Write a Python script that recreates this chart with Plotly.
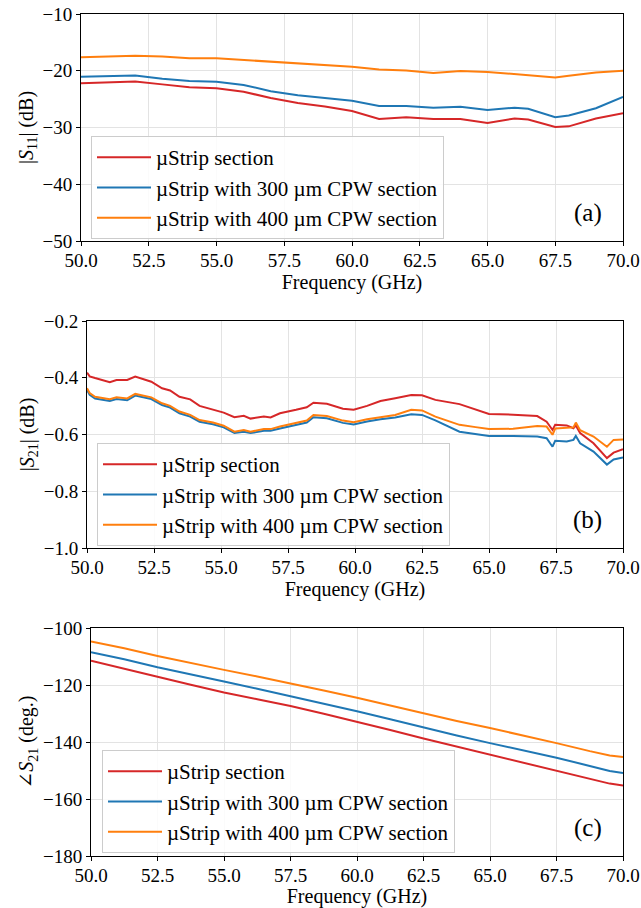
import plotly.graph_objects as go

W, H = 641, 908

# ---------------- data ----------------
series_names = ["µStrip section", "µStrip with 300 µm CPW section", "µStrip with 400 µm CPW section"]
colors = ["#d62728", "#1f77b4", "#ff7f0e"]

# (a) |S11| (dB)
freq_a = [50, 51, 52, 53, 54, 55, 56, 57, 58, 59, 60, 61, 62, 63, 64, 65, 66, 66.5, 67, 67.5, 68, 69, 70]
s11_ustrip = [-22.2, -22.0, -21.9, -22.4, -22.9, -23.1, -23.7, -24.8, -25.7, -26.3, -27.1, -28.5, -28.2, -28.5, -28.5,
              -29.2, -28.4, -28.6, -29.3, -29.9, -29.8, -28.4, -27.5]
s11_cpw300 = [-21.05, -20.9, -20.85, -21.4, -21.8, -21.95, -22.5, -23.6, -24.3, -24.8, -25.3, -26.2, -26.2, -26.5, -26.35,
              -26.9, -26.5, -26.7, -27.5, -28.2, -27.9, -26.6, -24.6]
s11_cpw400 = [-17.6, -17.45, -17.35, -17.5, -17.8, -17.8, -18.1, -18.5, -18.8, -19.0, -19.3, -19.8, -19.95, -20.4, -20.05,
              -20.2, -20.6, -20.75, -20.95, -21.2, -20.9, -20.3, -20.0]

# (b) |S21| (dB)
freq_b = [50.0, 50.1, 50.3, 50.85, 51.1, 51.5, 51.8, 52.25, 52.4, 52.8, 53.1, 53.45, 53.85, 54.2, 54.7, 55.1, 55.5,
          55.85, 56.1, 56.6, 56.85, 57.2, 57.8, 58.2, 58.45, 58.95, 59.55, 59.95, 60.45, 60.95, 61.5, 62.1, 62.5, 63.0,
          63.9, 64.5, 65.0, 65.9, 66.8, 67.15, 67.37, 67.47, 67.9, 68.15, 68.24, 68.4, 68.9, 69.4, 69.65, 70.0]
s21_ustrip = [-0.382, -0.395, -0.401, -0.416, -0.408, -0.408, -0.396, -0.410, -0.414, -0.437, -0.445, -0.467, -0.476,
              -0.499, -0.513, -0.523, -0.539, -0.534, -0.544, -0.537, -0.540, -0.525, -0.513, -0.504, -0.488, -0.492,
              -0.509, -0.513, -0.499, -0.482, -0.472, -0.461, -0.462, -0.478, -0.493, -0.511, -0.528, -0.530, -0.535,
              -0.555, -0.584, -0.566, -0.568, -0.578, -0.568, -0.595, -0.631, -0.683, -0.664, -0.652]
s21_cpw300 = [-0.443, -0.460, -0.473, -0.482, -0.475, -0.479, -0.463, -0.473, -0.475, -0.496, -0.505, -0.525, -0.537,
              -0.555, -0.564, -0.575, -0.595, -0.590, -0.595, -0.587, -0.587, -0.579, -0.567, -0.558, -0.539, -0.543,
              -0.559, -0.565, -0.554, -0.546, -0.540, -0.529, -0.531, -0.550, -0.590, -0.598, -0.605, -0.605, -0.607,
              -0.613, -0.643, -0.622, -0.625, -0.619, -0.605, -0.631, -0.660, -0.706, -0.688, -0.681]
s21_cpw400 = [-0.437, -0.454, -0.467, -0.476, -0.469, -0.473, -0.457, -0.467, -0.469, -0.490, -0.499, -0.519, -0.531,
              -0.549, -0.558, -0.569, -0.590, -0.584, -0.590, -0.581, -0.581, -0.572, -0.560, -0.551, -0.531, -0.535,
              -0.551, -0.557, -0.546, -0.539, -0.531, -0.513, -0.515, -0.537, -0.566, -0.574, -0.581, -0.580, -0.570,
              -0.572, -0.601, -0.579, -0.578, -0.575, -0.558, -0.585, -0.607, -0.643, -0.619, -0.618]

# (c) phase of S21 (deg.)
freq_c = [50, 51.25, 52.5, 53.75, 55, 56.25, 57.5, 58.75, 60, 61.25, 62.5, 63.75, 65, 66.25, 67.5, 68.75, 69.5, 70]
ph_ustrip = [-111.5, -114.2, -117.1, -119.9, -122.6, -125.0, -127.4, -130.1, -132.9, -135.8, -138.8, -141.6, -144.4,
             -147.3, -150.2, -153.0, -154.6, -155.3]
ph_cpw300 = [-108.5, -111.0, -113.8, -116.4, -118.8, -121.3, -123.9, -126.6, -129.2, -132.0, -134.9, -137.7, -140.4,
             -142.9, -145.5, -148.4, -150.2, -150.9]
ph_cpw400 = [-104.7, -107.1, -109.8, -112.3, -114.7, -117.0, -119.4, -121.9, -124.5, -127.2, -130.0, -132.6, -135.1,
             -137.7, -140.4, -143.2, -144.7, -145.3]

x_ticks = [50.0, 52.5, 55.0, 57.5, 60.0, 62.5, 65.0, 67.5, 70.0]

# ---------------- layout helpers ----------------
FONT = "Liberation Serif, Times New Roman, DejaVu Serif, serif"
TICK_SIZE = 19
TITLE_SIZE = 20
LEG_SIZE = 21

def px_x(p):
    return p / W

def px_y(p):
    return 1 - p / H

# plot boxes in window pixels: (left, right, top, bottom)
boxes = [(81, 623, 14, 241), (87, 623, 321, 548), (91, 623, 628, 856)]
yranges = [(-50, -10), (-1.0, -0.2), (-180, -100)]
ydticks = [10, 0.2, 20]
yfmts = [".0f", ".1f", ".0f"]
ytitles = ["|<i>S</i><sub>11</sub>| (dB)", "|<i>S</i><sub>21</sub>| (dB)", "∠<i>S</i><sub>21</sub> (deg.)"]
panel_labels = ["(a)", "(b)", "(c)"]
legend_boxes = [(91, 136), (97, 443), (102, 750)]
label_pos = [(588, 213), (587, 520), (588, 828)]

data_sets = [
    (freq_a, [s11_ustrip, s11_cpw300, s11_cpw400]),
    (freq_b, [s21_ustrip, s21_cpw300, s21_cpw400]),
    (freq_c, [ph_ustrip, ph_cpw300, ph_cpw400]),
]

fig = go.Figure()
layout = dict(
    width=W, height=H,
    margin=dict(l=0, r=0, t=0, b=0, autoexpand=False),
    paper_bgcolor="white", plot_bgcolor="white",
    font=dict(family=FONT, size=TICK_SIZE, color="black"),
    showlegend=True,
    annotations=[],
)

for i, ((fx, ys), box) in enumerate(zip(data_sets, boxes)):
    n = "" if i == 0 else str(i + 1)
    leg = "legend" if i == 0 else f"legend{i + 1}"
    for name, col, y in zip(series_names, colors, ys):
        fig.add_trace(go.Scatter(
            x=fx, y=y, mode="lines", name=name,
            line=dict(color=col, width=2),
            xaxis="x" + n, yaxis="y" + n, legend=leg,
        ))
    l, r, t, b = box
    axis_common = dict(
        showline=True, linecolor="black", linewidth=1, mirror=True,
        ticks="outside", ticklen=4, tickwidth=1, tickcolor="black",
        showgrid=True, gridcolor="#e3e3e3", gridwidth=1, zeroline=False,
        tickfont=dict(family=FONT, size=TICK_SIZE, color="black"),
        automargin=False, ticklabeloverflow="allow",
    )
    layout["xaxis" + n] = dict(
        axis_common, domain=[px_x(l), px_x(r)], anchor="y" + n, range=[50, 70],
        tickvals=x_ticks, tickformat=".1f", ticklabelstandoff=-2,
        title=dict(text="Frequency (GHz)", font=dict(family=FONT, size=TITLE_SIZE), standoff=5),
    )
    layout["yaxis" + n] = dict(
        axis_common, domain=[px_y(b), px_y(t)], anchor="x" + n, range=list(yranges[i]),
        dtick=ydticks[i], tick0=yranges[i][0], tickformat=yfmts[i],
        title=dict(text=ytitles[i], font=dict(family=FONT, size=TITLE_SIZE), standoff=3),
    )
    lx, ly = legend_boxes[i]
    layout[leg] = dict(
        x=px_x(lx), y=px_y(ly), xanchor="left", yanchor="top",
        bgcolor="rgba(255,255,255,0.85)", bordercolor="#cccccc", borderwidth=1,
        font=dict(family=FONT, size=LEG_SIZE, color="black"),
        itemwidth=54,
    )
    ax, ay = label_pos[i]
    layout["annotations"].append(dict(
        x=px_x(ax), y=px_y(ay), xref="paper", yref="paper", text=panel_labels[i],
        showarrow=False, font=dict(family=FONT, size=25, color="black"),
        xanchor="center", yanchor="middle",
    ))

fig.update_layout(**layout)
# remove the default 8 px page margin so the 641x908 figure fills the window exactly
fig.write_html(
    "out.html",
    config={"displayModeBar": False},
    post_script="document.body.style.margin='0';document.body.style.overflow='hidden';",
)
